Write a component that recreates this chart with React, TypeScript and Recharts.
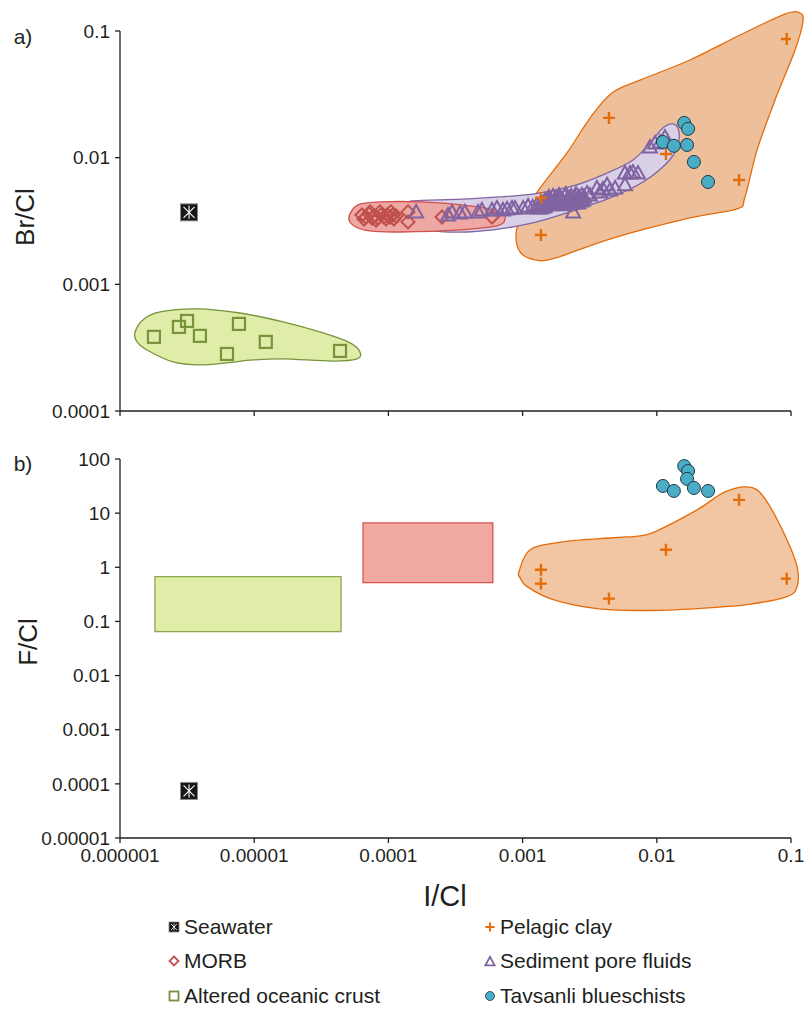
import React from 'react'
import { ScatterChart, Scatter, XAxis, YAxis, ReferenceArea } from 'recharts'

const FONT = '"Liberation Sans", Arial, Helvetica, sans-serif'
const INK = '#231f20'

// axes
const xTicks = [0.000001, 0.00001, 0.0001, 0.001, 0.01, 0.1]
const xTickLabels = ['0.000001', '0.00001', '0.0001', '0.001', '0.01', '0.1']
const brTicks = [0.0001, 0.001, 0.01, 0.1]
const brTickLabels = ['0.0001', '0.001', '0.01', '0.1']
const fTicks = [0.00001, 0.0001, 0.001, 0.01, 0.1, 1, 10, 100]
const fTickLabels = ['0.00001', '0.0001', '0.001', '0.01', '0.1', '1', '10', '100']

// Seawater
const seawaterICl = [3.27e-6]
const seawaterBrCl = [0.0037]
const seawaterFCl = [7.4e-5]

// Altered oceanic crust
const aocICl = [1.79e-6, 2.75e-6, 3.16e-6, 3.94e-6, 6.27e-6, 7.7e-6, 1.22e-5, 4.36e-5]
const aocBrCl = [3.85e-4, 4.61e-4, 5.14e-4, 3.92e-4, 2.82e-4, 4.87e-4, 3.51e-4, 2.98e-4]

// MORB
const morbICl = [
  6.35e-5, 6.58e-5, 6.81e-5, 7.16e-5, 7.3e-5, 7.55e-5, 7.94e-5, 8.09e-5, 8.35e-5, 8.65e-5,
  8.81e-5, 9.27e-5, 9.6e-5, 9.77e-5, 1.03e-4, 1.045e-4, 1.08e-4, 1.1e-4, 1.14e-4, 1.4e-4,
  1.4e-4, 2.51e-4, 5.92e-4,
]
const morbBrCl = [
  3.53e-3, 3.28e-3, 3.4e-3, 3.6e-3, 3.73e-3, 3.34e-3, 3.47e-3, 3.22e-3, 3.34e-3, 3.73e-3,
  3.53e-3, 3.4e-3, 3.28e-3, 3.53e-3, 3.4e-3, 3.73e-3, 3.53e-3, 3.28e-3, 3.47e-3, 3.73e-3,
  3.11e-3, 3.4e-3, 3.4e-3,
]

// Sediment pore fluids
const poreICl = [
  1.61e-4, 2.78e-4, 2.98e-4, 3.42e-4, 3.72e-4, 4.66e-4, 4.98e-4, 5.92e-4, 6.44e-4, 7.14e-4,
  7.66e-4, 8.34e-4, 8.77e-4, 1.01e-3, 1.1e-3, 1.19e-3, 1.28e-3, 1.3e-3, 1.35e-3, 1.37e-3,
  1.42e-3, 1.44e-3, 1.47e-3, 1.47e-3, 1.52e-3, 1.55e-3, 1.57e-3, 1.6e-3, 1.63e-3, 1.66e-3,
  1.69e-3, 1.71e-3, 1.74e-3, 1.77e-3, 1.8e-3, 1.84e-3, 1.87e-3, 1.9e-3, 1.93e-3, 1.97e-3,
  2.0e-3, 2.03e-3, 2.07e-3, 2.1e-3, 2.14e-3, 2.18e-3, 2.22e-3, 2.25e-3, 2.3e-3, 2.33e-3,
  2.38e-3, 2.42e-3, 2.45e-3, 2.5e-3, 2.54e-3, 2.59e-3, 2.63e-3, 2.68e-3, 2.72e-3, 2.77e-3,
  2.82e-3, 2.87e-3, 3.02e-3, 3.18e-3, 3.58e-3, 3.78e-3, 3.97e-3, 4.26e-3, 4.48e-3, 4.89e-3,
  5.79e-3, 5.79e-3, 6.31e-3, 6.65e-3, 7.24e-3, 8.89e-3, 9.7e-3, 0.01057, 0.0115,
]
const poreBrCl = [
  3.73e-3, 3.53e-3, 3.73e-3, 3.66e-3, 3.73e-3, 3.73e-3, 3.87e-3, 3.87e-3, 4.01e-3, 3.87e-3,
  3.94e-3, 4.01e-3, 4.01e-3, 4.01e-3, 4.16e-3, 4.08e-3, 4.24e-3, 4.01e-3, 4.31e-3, 4.01e-3,
  4.39e-3, 4.08e-3, 4.16e-3, 4.63e-3, 4.31e-3, 4.63e-3, 4.9e-3, 4.39e-3, 4.55e-3, 4.24e-3,
  4.99e-3, 4.39e-3, 4.72e-3, 4.81e-3, 4.47e-3, 4.31e-3, 5.08e-3, 4.9e-3, 4.72e-3, 4.55e-3,
  4.24e-3, 4.39e-3, 4.99e-3, 5.17e-3, 4.63e-3, 4.81e-3, 4.31e-3, 4.81e-3, 4.99e-3, 4.39e-3,
  3.73e-3, 4.63e-3, 4.9e-3, 5.17e-3, 4.55e-3, 4.39e-3, 4.9e-3, 4.72e-3, 4.55e-3, 5.08e-3,
  4.63e-3, 4.9e-3, 5.26e-3, 5.08e-3, 5.77e-3, 5.36e-3, 5.66e-3, 6.1e-3, 5.56e-3, 5.77e-3,
  7.57e-3, 6.1e-3, 7.57e-3, 7.71e-3, 7.57e-3, 0.01214, 0.01306, 0.0133, 0.01456,
]

// Pelagic clay
const clayICl = [1.37e-3, 1.37e-3, 4.4e-3, 0.0117, 0.041, 0.093]
const clayBrCl = [0.00481, 0.00245, 0.0206, 0.0107, 0.00667, 0.0865]
const clayFCl = [0.9, 0.5, 0.264, 2.11, 17.6, 0.617]

// Tavsanli blueschists
const bsICl = [0.016, 0.0171, 0.0111, 0.0134, 0.0168, 0.0189, 0.0241]
const bsBrCl = [0.0188, 0.0169, 0.0133, 0.0124, 0.0126, 0.00925, 0.00643]
const bsFCl = [74, 60, 31.8, 25.7, 43, 29.2, 25.7]

// field outlines, panel a
const clayEnvX = [0.1167, 0.1227, 0.1072, 0.076, 0.0559, 0.0454, 0.0396, 0.01766, 0.00472, 0.00174, 0.00124, 0.000957, 0.000894, 0.000991, 0.00135, 0.00214, 0.00318, 0.00463, 0.0075, 0.01766, 0.0417, 0.0901]
const clayEnvY = [0.1387, 0.1178, 0.0708, 0.0285, 0.01151, 0.0049, 0.00394, 0.00334, 0.00232, 0.00161, 0.00156, 0.0018, 0.00255, 0.00347, 0.00577, 0.01089, 0.02056, 0.0324, 0.041, 0.059, 0.093, 0.136]
const poreEnvX = [1.33e-4, 1.5e-4, 3.86e-4, 1.19e-3, 2.38e-3, 4.26e-3, 6.65e-3, 8.89e-3, 0.0111, 0.0132, 0.0146, 0.0142, 0.0119, 7.89e-3, 4.48e-3, 2.14e-3, 1.19e-3, 6.8e-4, 3.86e-4, 2.15e-4, 1.5e-4, 1.31e-4]
const poreEnvY = [4.01e-3, 4.55e-3, 4.72e-3, 5.16e-3, 5.98e-3, 7.57e-3, 9.6e-3, 0.01306, 0.01714, 0.01845, 0.01625, 0.01214, 9.08e-3, 6.43e-3, 4.81e-3, 3.66e-3, 3.05e-3, 2.74e-3, 2.59e-3, 2.64e-3, 2.94e-3, 3.47e-3]
const morbEnvX = [5.08e-5, 5.93e-5, 8.65e-5, 1.72e-4, 4.06e-4, 6.8e-4, 7.4e-4, 6.44e-4, 3.42e-4, 1.22e-4, 7.3e-5, 5.55e-5]
const morbEnvY = [3.4e-3, 4.24e-3, 4.47e-3, 4.47e-3, 4.16e-3, 3.73e-3, 3.28e-3, 2.89e-3, 2.69e-3, 2.59e-3, 2.64e-3, 2.89e-3]
const aocEnvX = [1.29e-6, 1.48e-6, 1.99e-6, 3.75e-6, 7.83e-6, 1.64e-5, 3.26e-5, 5.18e-5, 6.14e-5, 5.83e-5, 3.86e-5, 1.64e-5, 9.8e-6, 6.27e-6, 3.94e-6, 2.48e-6, 1.59e-6, 1.34e-6]
const aocEnvY = [4.13e-4, 5.24e-4, 6.05e-4, 6.4e-4, 5.94e-4, 5.05e-4, 4.13e-4, 3.45e-4, 2.92e-4, 2.58e-4, 2.48e-4, 2.58e-4, 2.53e-4, 2.4e-4, 2.31e-4, 2.44e-4, 3.03e-4, 3.51e-4]

// field outline / ranges, panel b
const clayEnvBX = [9.4e-4, 1.14e-3, 2.0e-3, 4.72e-3, 7.5e-3, 0.01002, 0.01995, 0.0311, 0.0439, 0.0559, 0.0699, 0.0933, 0.111, 0.111, 0.0933, 0.047, 0.01995, 8.45e-3, 3.58e-3, 1.69e-3, 1.08e-3, 9.57e-4]
const clayEnvBY = [0.83, 2.11, 2.96, 3.51, 3.82, 4.72, 11.5, 23.6, 30.5, 26.9, 13.1, 3.22, 1.03, 0.44, 0.288, 0.205, 0.173, 0.159, 0.173, 0.253, 0.44, 0.643]
const aocRangeICl = [1.82e-6, 4.44e-5]
const aocRangeFCl = [0.065, 0.67]
const morbRangeICl = [6.47e-5, 6.0e-4]
const morbRangeFCl = [0.52, 6.6]

const pts = (xs: number[], ys: number[]) => xs.map((x, i) => ({ x, y: ys[i] }))

// closed Catmull-Rom outline through the projected points
function smoothClosed(p: { x: number; y: number }[]) {
  const n = p.length
  let d = `M${p[0].x},${p[0].y}`
  for (let i = 0; i < n; i++) {
    const a = p[(i - 1 + n) % n], b = p[i], c = p[(i + 1) % n], e = p[(i + 2) % n]
    d += ` C${b.x + (c.x - a.x) / 6},${b.y + (c.y - a.y) / 6} ${c.x - (e.x - b.x) / 6},${c.y - (e.y - b.y) / 6} ${c.x},${c.y}`
  }
  return d + 'Z'
}

const envelope = (fill: string, stroke: string) => (props: any) => (
  <path d={smoothClosed(props.points)} fill={fill} stroke={stroke} strokeWidth={1.3} />
)
const noMark = () => <g />

const SeawaterMark = ({ cx, cy }: any) => (
  <g>
    <rect x={cx - 8.5} y={cy - 8.5} width={17} height={17} fill='#161616' stroke='#8a8a8a' strokeWidth={1} />
    <path d={`M${cx - 5.5},${cy - 5.5}L${cx + 5.5},${cy + 5.5}M${cx + 5.5},${cy - 5.5}L${cx - 5.5},${cy + 5.5}M${cx},${cy - 6.5}L${cx},${cy + 6.5}`} stroke='#fff' strokeWidth={1.1} />
  </g>
)
const SquareMark = ({ cx, cy }: any) => (
  <rect x={cx - 6} y={cy - 6} width={12} height={12} fill='none' stroke='#77933c' strokeWidth={2.2} />
)
const DiamondMark = ({ cx, cy }: any) => (
  <path d={`M${cx},${cy - 6.5}L${cx + 6.5},${cy}L${cx},${cy + 6.5}L${cx - 6.5},${cy}Z`} fill='none' stroke='#c0504d' strokeWidth={2} />
)
const TriangleMark = ({ cx, cy }: any) => (
  <path d={`M${cx},${cy - 7}L${cx + 7},${cy + 5.5}L${cx - 7},${cy + 5.5}Z`} fill='none' stroke='#8064a2' strokeWidth={2} />
)
const PlusMark = ({ cx, cy }: any) => (
  <path d={`M${cx - 6},${cy}L${cx + 6},${cy}M${cx},${cy - 6}L${cx},${cy + 6}`} stroke='#e46c0a' strokeWidth={2.4} />
)
const CircleMark = ({ cx, cy }: any) => (
  <circle cx={cx} cy={cy} r={6.5} fill='#4bacc6' stroke='#1e3a46' strokeWidth={1} />
)

const tickStyle = { fontSize: 19, fill: INK, fontFamily: FONT }
const axisLine = { stroke: INK, strokeWidth: 1.3 }

function PanelA() {
  return (
    <ScatterChart width={806} height={421} margin={{ top: 31, right: 15, bottom: 0, left: 0 }}>
      <XAxis type='number' dataKey='x' scale='log' domain={[1e-6, 0.1]} allowDataOverflow ticks={xTicks} interval={0}
        height={10} tickSize={5} tick={noMark} axisLine={axisLine} tickLine={axisLine} />
      <YAxis type='number' dataKey='y' scale='log' domain={[1e-4, 0.1]} allowDataOverflow ticks={brTicks} interval={0}
        width={120} tickSize={5} tickMargin={5} tick={tickStyle} tickFormatter={(_v: number, i: number) => brTickLabels[i]}
        axisLine={axisLine} tickLine={axisLine} />
      <Scatter className='env' data={pts(clayEnvX, clayEnvY)} line={envelope('#edc09b', '#e46c0a')} shape={noMark} isAnimationActive={false} />
      <Scatter className='env' data={pts(poreEnvX, poreEnvY)} line={envelope('#d9cfe6', '#8064a2')} shape={noMark} isAnimationActive={false} />
      <Scatter className='env' data={pts(morbEnvX, morbEnvY)} line={envelope('#eda8a4', '#d0504d')} shape={noMark} isAnimationActive={false} />
      <Scatter className='env' data={pts(aocEnvX, aocEnvY)} line={envelope('#e0eda8', '#77933c')} shape={noMark} isAnimationActive={false} />
      <Scatter data={pts(seawaterICl, seawaterBrCl)} shape={SeawaterMark} isAnimationActive={false} />
      <Scatter data={pts(aocICl, aocBrCl)} shape={SquareMark} isAnimationActive={false} />
      <Scatter data={pts(morbICl, morbBrCl)} shape={DiamondMark} isAnimationActive={false} />
      <Scatter data={pts(poreICl, poreBrCl)} shape={TriangleMark} isAnimationActive={false} />
      <Scatter data={pts(clayICl, clayBrCl)} shape={PlusMark} isAnimationActive={false} />
      <Scatter data={pts(bsICl, bsBrCl)} shape={CircleMark} isAnimationActive={false} />
    </ScatterChart>
  )
}

function PanelB() {
  return (
    <ScatterChart width={806} height={478} margin={{ top: 29, right: 15, bottom: 0, left: 0 }}>
      <XAxis type='number' dataKey='x' scale='log' domain={[1e-6, 0.1]} allowDataOverflow ticks={xTicks} interval={0}
        height={70} tickSize={5} tickMargin={6} tick={tickStyle} tickFormatter={(_v: number, i: number) => xTickLabels[i]}
        axisLine={axisLine} tickLine={axisLine} />
      <YAxis type='number' dataKey='y' scale='log' domain={[1e-5, 100]} allowDataOverflow ticks={fTicks} interval={0}
        width={120} tickSize={5} tickMargin={5} tick={tickStyle} tickFormatter={(_v: number, i: number) => fTickLabels[i]}
        axisLine={axisLine} tickLine={axisLine} />
      <ReferenceArea x1={aocRangeICl[0]} x2={aocRangeICl[1]} y1={aocRangeFCl[0]} y2={aocRangeFCl[1]}
        fill='#e0eda8' fillOpacity={1} stroke='#8aa650' strokeWidth={1.3} />
      <ReferenceArea x1={morbRangeICl[0]} x2={morbRangeICl[1]} y1={morbRangeFCl[0]} y2={morbRangeFCl[1]}
        fill='#f0a8a2' fillOpacity={1} stroke='#d9534f' strokeWidth={1.3} />
      <Scatter className='env' data={pts(clayEnvBX, clayEnvBY)} line={envelope('#f3c6a3', '#e46c0a')} shape={noMark} isAnimationActive={false} />
      <Scatter data={pts(seawaterICl, seawaterFCl)} shape={SeawaterMark} isAnimationActive={false} />
      <Scatter data={pts(clayICl, clayFCl)} shape={PlusMark} isAnimationActive={false} />
      <Scatter data={pts(bsICl, bsFCl)} shape={CircleMark} isAnimationActive={false} />
    </ScatterChart>
  )
}

const legendLeft = [
  { label: 'Seawater', icon: 'sea' },
  { label: 'MORB', icon: 'diamond' },
  { label: 'Altered oceanic crust', icon: 'square' },
]
const legendRight = [
  { label: 'Pelagic clay', icon: 'plus' },
  { label: 'Sediment pore fluids', icon: 'triangle' },
  { label: 'Tavsanli blueschists', icon: 'circle' },
]
const legendRowCentres = [927, 961, 996]

function LegendIcon({ kind }: { kind: string }) {
  return (
    <svg width={12} height={12} viewBox='0 0 12 12' style={{ marginRight: 4 }}>
      {kind === 'sea' && (
        <g>
          <rect x={1} y={1} width={10} height={10} fill='#161616' stroke='#8a8a8a' strokeWidth={0.8} />
          <path d='M3,3L9,9M9,3L3,9M6,2.5L6,9.5' stroke='#fff' strokeWidth={0.8} />
        </g>
      )}
      {kind === 'diamond' && <path d='M6,1.5L10.5,6L6,10.5L1.5,6Z' fill='none' stroke='#c0504d' strokeWidth={1.8} />}
      {kind === 'square' && <rect x={1.5} y={1.5} width={9} height={9} fill='none' stroke='#77933c' strokeWidth={1.8} />}
      {kind === 'plus' && <path d='M1.5,6L10.5,6M6,1.5L6,10.5' stroke='#e46c0a' strokeWidth={2} />}
      {kind === 'triangle' && <path d='M6,1.8L10.6,10.4L1.4,10.4Z' fill='none' stroke='#8064a2' strokeWidth={1.8} />}
      {kind === 'circle' && <circle cx={6} cy={6} r={4.5} fill='#4bacc6' stroke='#1e3a46' strokeWidth={0.8} />}
    </svg>
  )
}

function LegendColumn({ items, left }: { items: { label: string; icon: string }[]; left: number }) {
  return (
    <>
      {items.map((it, i) => (
        <div key={it.label} style={{ position: 'absolute', left, top: legendRowCentres[i] - 12, height: 24, display: 'flex', alignItems: 'center', fontSize: 21, color: INK, whiteSpace: 'nowrap' }}>
          <LegendIcon kind={it.icon} />
          <span>{it.label}</span>
        </div>
      ))}
    </>
  )
}

export default function App() {
  const text = (s: string, left: number, top: number, size: number, rotate = false) => (
    <div style={{ position: 'absolute', left, top, fontSize: size, color: INK, lineHeight: 1, whiteSpace: 'nowrap',
      transform: `translate(-50%, -50%)${rotate ? ' rotate(-90deg)' : ''}` }}>{s}</div>
  )
  return (
    <div style={{ position: 'absolute', left: 0, top: 0, width: 806, height: 1009, background: '#fff', fontFamily: FONT, overflow: 'hidden' }}>
      <style>{'.env { clip-path: none !important; }'}</style>
      <div style={{ position: 'absolute', left: 0, top: 0 }}><PanelA /></div>
      <div style={{ position: 'absolute', left: 0, top: 430 }}><PanelB /></div>
      {text('a)', 23, 36, 21)}
      {text('b)', 23, 463, 21)}
      {text('Br/Cl', 25, 217, 26, true)}
      {text('F/Cl', 28, 642, 26, true)}
      {text('I/Cl', 445, 896, 29)}
      <LegendColumn items={legendLeft} left={168} />
      <LegendColumn items={legendRight} left={484} />
    </div>
  )
}
